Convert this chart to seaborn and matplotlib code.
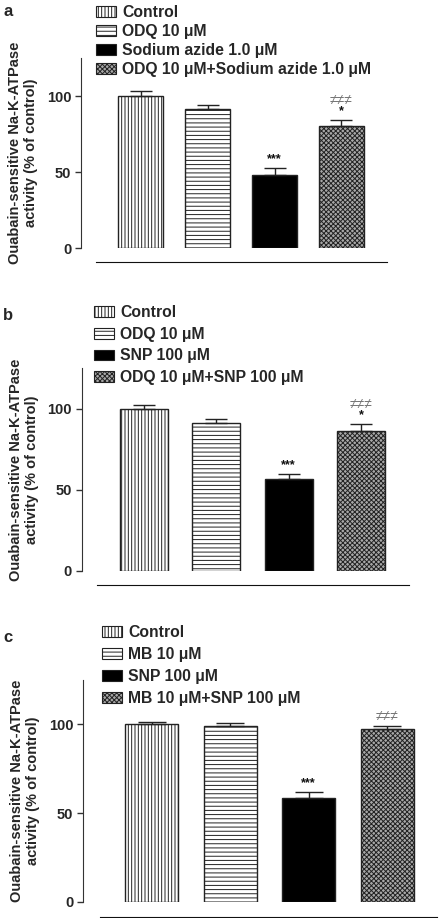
import numpy as np
import seaborn as sns
import matplotlib.pyplot as plt
from matplotlib.patches import Patch

# ---- data ----
groups_a = ["Control", "ODQ 10 μM", "Sodium azide 1.0 μM", "ODQ 10 μM+Sodium azide 1.0 μM"]
means_a = [100, 91.5, 48, 80]
sem_a = [3, 2.5, 4.5, 4]
stars_a = ["", "", "***", "*"]
hash_a = ["", "", "", "≠≠≠"]

groups_b = ["Control", "ODQ 10 μM", "SNP 100 μM", "ODQ 10 μM+SNP 100 μM"]
means_b = [100, 91.2, 56.6, 86]
sem_b = [2.5, 2.5, 3.2, 4.8]
stars_b = ["", "", "***", "*"]
hash_b = ["", "", "", "≠≠≠"]

groups_c = ["Control", "MB 10 μM", "SNP 100 μM", "MB 10 μM+SNP 100 μM"]
means_c = [100, 98.9, 58.3, 97.2]
sem_c = [1.3, 2.0, 3.8, 2.0]
stars_c = ["", "", "***", ""]
hash_c = ["", "", "", "≠≠≠"]

yticks = [0, 50, 100]
ylabel = "Ouabain-sensitive Na-K-ATPase\nactivity (% of control)"

# ---- style ----
sns.set_style("ticks")
plt.rcParams['font.family'] = ['Liberation Sans', 'DejaVu Sans']
plt.rcParams['hatch.linewidth'] = 0.7

faces = ["white", "white", "black", "#a8a8a8"]
hatches = ["|||||", "----", "", "xxxxxxx"]
edge = "#222222"

W, H = 442, 918
fig = plt.figure(figsize=(W / 100, H / 100), dpi=100)

# layout per panel, in pixels
panels = [
    dict(letter="a", groups=groups_a, means=means_a, sem=sem_a, stars=stars_a, hashes=hash_a,
         ax_x=81, right=387, y0=248, ytop=58, c0=140.5, step=67, bw=45, line0=96, off=14,
         leg_x=96, leg_y=5, lsp=0.26, let_y=12, cap=8),
    dict(letter="b", groups=groups_b, means=means_b, sem=sem_b, stars=stars_b, hashes=hash_b,
         ax_x=81.7, right=409, y0=571, ytop=368, c0=144, step=72.3, bw=48, line0=97, off=14,
         leg_x=94, leg_y=305, lsp=0.43, let_y=315, cap=8),
    dict(letter="c", groups=groups_c, means=means_c, sem=sem_c, stars=stars_c, hashes=hash_c,
         ax_x=83, right=437, y0=901.7, ytop=680, c0=151.5, step=78.5, bw=53, line0=100, off=15,
         leg_x=102, leg_y=625, lsp=0.45, let_y=637, cap=10),
]

for p in panels:
    ax = fig.add_axes([p["ax_x"] / W, 1 - p["y0"] / H,
                       (p["right"] - p["ax_x"]) / W, (p["y0"] - p["ytop"]) / H])
    groups = p["groups"]
    pal = dict(zip(groups, faces))
    sns.barplot(x=groups, y=p["means"], hue=groups, palette=pal, order=groups,
                width=p["bw"] / p["step"], edgecolor=edge, linewidth=1.0,
                errorbar=None, legend=False, ax=ax)
    for patch, h in zip(ax.patches, hatches):
        patch.set_hatch(h)
        patch.set_edgecolor(edge)

    x = np.arange(len(groups))
    ax.errorbar(x, p["means"], yerr=[np.zeros(len(x)), p["sem"]], fmt="none",
                ecolor=edge, elinewidth=1.0, capsize=p["cap"], capthick=1.0, zorder=3)

    for i, (s, h) in enumerate(zip(p["stars"], p["hashes"])):
        top = p["means"][i] + p["sem"][i]
        if s:
            ax.annotate(s, (i, top), xytext=(0, 2), textcoords="offset points",
                        ha="center", va="bottom", fontsize=9, fontweight="bold", color="#111111")
        if h:
            ax.annotate(h, (i, top), xytext=(0, 10 if s else 3), textcoords="offset points",
                        ha="center", va="bottom", fontsize=10, color="#777777")

    left = -(p["c0"] - p["ax_x"]) / p["step"]
    right = (p["right"] - p["c0"]) / p["step"]
    ax.set_xlim(left, right)
    ax.set_ylim(0, 125)
    ax.set_yticks(yticks)
    ax.set_yticklabels([str(t) for t in yticks], fontsize=10.5, fontweight="bold")
    ax.set_xticks([])
    ax.set_xlabel("")
    ax.set_ylabel(ylabel, fontsize=10.5, fontweight="bold", labelpad=6)
    ax.tick_params(axis="y", length=4, width=1, color="#333333", pad=3)

    ax.spines["top"].set_visible(False)
    ax.spines["right"].set_visible(False)
    ax.spines["left"].set_color("#333333")
    ax.spines["bottom"].set_position(("outward", p["off"] * 0.72))
    ax.spines["bottom"].set_bounds((p["line0"] - p["c0"]) / p["step"], right)
    ax.spines["bottom"].set_color("#111111")

    handles = [Patch(facecolor=f, edgecolor=edge, hatch=h, linewidth=0.8) for f, h in zip(faces, hatches)]
    ax.legend(handles, groups, loc="upper left", frameon=False,
              bbox_to_anchor=(p["leg_x"] / W, 1 - p["leg_y"] / H), bbox_transform=fig.transFigure,
              borderpad=0, borderaxespad=0, handlelength=1.25, handleheight=0.7,
              handletextpad=0.4, labelspacing=p["lsp"],
              prop={"size": 11.3, "weight": "bold"})

    fig.text(3 / W, 1 - p["let_y"] / H, p["letter"], fontsize=12, fontweight="bold",
             ha="left", va="center")

fig.savefig("out.png", dpi=100)
